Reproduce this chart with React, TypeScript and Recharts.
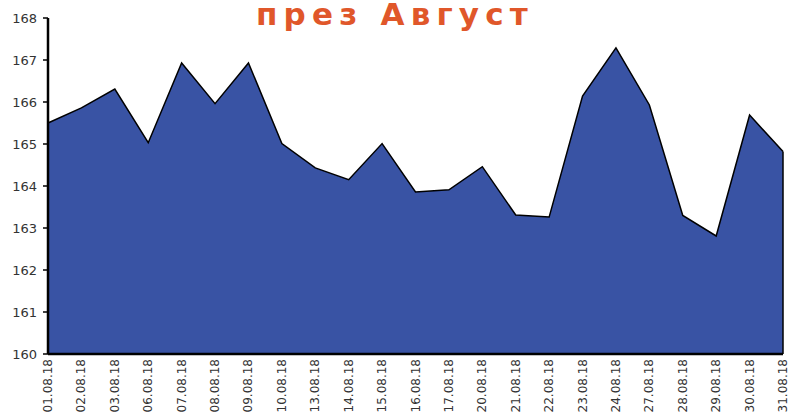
import React from 'react';
import { AreaChart, Area, XAxis, YAxis, ReferenceLine } from 'recharts';

const dates = ['01.08.18','02.08.18','03.08.18','06.08.18','07.08.18','08.08.18','09.08.18','10.08.18','13.08.18','14.08.18','15.08.18','16.08.18','17.08.18','20.08.18','21.08.18','22.08.18','23.08.18','24.08.18','27.08.18','28.08.18','29.08.18','30.08.18','31.08.18'];
const values = [165.5,165.86,166.31,165.03,166.93,165.96,166.93,165.01,164.43,164.15,165.01,163.86,163.91,164.46,163.31,163.26,166.14,167.29,165.93,163.3,162.81,165.69,164.82];
const yTicks = [160,161,162,163,164,165,166,167,168];
const title = 'през Август';

const data = dates.map((d, i) => ({ date: d, value: values[i] }));

const XTick = (props: any) => {
  const { x, y, payload } = props;
  return (
    <text x={x} y={y} transform={`rotate(-90 ${x} ${y})`} textAnchor="end" dominantBaseline="central"
      fontFamily="DejaVu Sans, Verdana, sans-serif" fontSize={12} fill="#333">
      {payload.value}
    </text>
  );
};

const last = dates[dates.length - 1];

export default function App() {
  return (
    <div style={{ position: 'absolute', left: 0, top: 0, width: 789, height: 415, background: '#fff' }}>
      <AreaChart width={789} height={415} data={data} margin={{ top: 18, right: 6, left: 0, bottom: 0 }}>
        <YAxis domain={[160, 168]} ticks={yTicks} width={48} tickSize={5} tickMargin={6}
          axisLine={{ stroke: '#000', strokeWidth: 2.5 }} tickLine={{ stroke: '#000', strokeWidth: 1.5 }}
          tick={{ fontFamily: 'DejaVu Sans, Verdana, sans-serif', fontSize: 13, fill: '#333' }} interval={0} />
        <XAxis dataKey="date" height={61} interval={0} tickLine={false} tickSize={0}
          axisLine={{ stroke: '#000', strokeWidth: 2.5 }} tick={<XTick />} tickMargin={5} />
        <Area type="linear" dataKey="value" stroke="#000" strokeWidth={1.5} fill="#3953A4" fillOpacity={1}
          baseValue={160} isAnimationActive={false} />
        <ReferenceLine stroke="#000" strokeWidth={1.5} segment={[{ x: last, y: 160 }, { x: last, y: values[values.length - 1] }]} />
        <text x={256} y={25} textAnchor="start" fontFamily="DejaVu Sans, Verdana, sans-serif" fontWeight="bold"
          fontSize={31} letterSpacing={6.2} fill="#E0572A">{title}</text>
      </AreaChart>
    </div>
  );
}
